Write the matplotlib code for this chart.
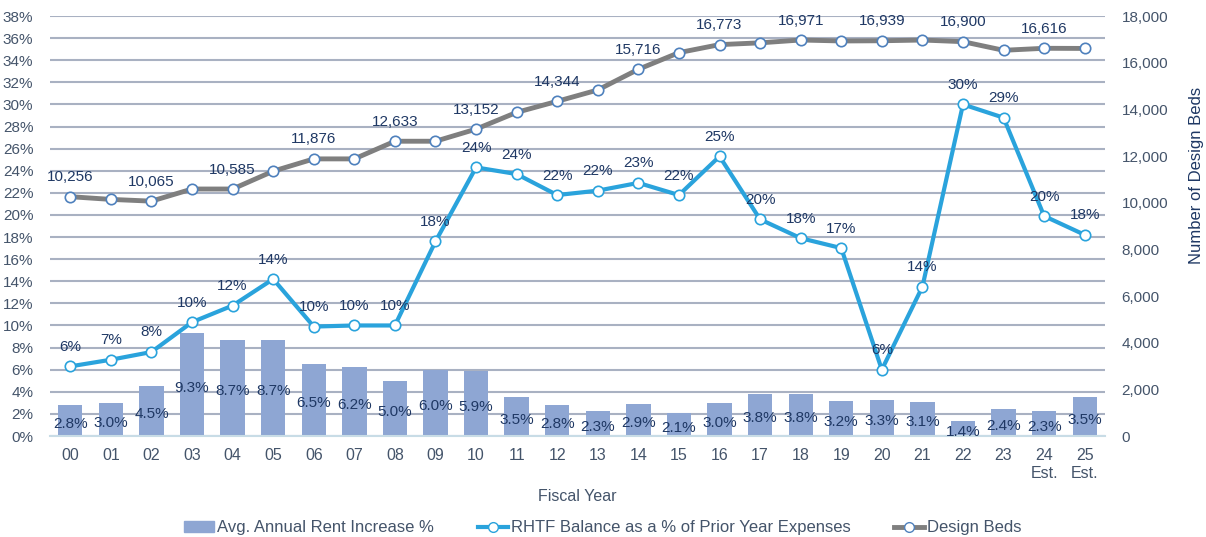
'''recreate the RHTF / design beds combo chart'''
import matplotlib
matplotlib.use('Agg')
import matplotlib.pyplot as plt
from matplotlib.lines import Line2D
from matplotlib.patches import Patch

# data
years = ['00', '01', '02', '03', '04', '05', '06', '07', '08', '09', '10', '11', '12',
         '13', '14', '15', '16', '17', '18', '19', '20', '21', '22', '23', '24\nEst.', '25\nEst.']
rent_increase = [2.8, 3.0, 4.5, 9.3, 8.7, 8.7, 6.5, 6.2, 5.0, 6.0, 5.9, 3.5, 2.8,
                 2.3, 2.9, 2.1, 3.0, 3.8, 3.8, 3.2, 3.3, 3.1, 1.4, 2.4, 2.3, 3.5]
rhtf_balance = [6.3, 6.9, 7.6, 10.3, 11.8, 14.2, 9.9, 10.0, 10.0, 17.6, 24.3, 23.7, 21.8,
                22.2, 22.9, 21.8, 25.3, 19.6, 17.9, 17.0, 6.0, 13.5, 30.0, 28.8, 19.9, 18.2]
design_beds = [10256, 10140, 10065, 10585, 10585, 11350, 11876, 11876, 12633, 12633, 13152, 13870, 14344,
               14830, 15716, 16430, 16773, 16850, 16971, 16930, 16939, 16970, 16900, 16530, 16616, 16610]

bar_color = '#8EA6D3'
blue = '#2AA3DC'
gray = '#7F7F7F'
text_color = '#1F3864'
tick_color = '#44546A'

plt.rcParams['font.family'] = ['Liberation Sans', 'DejaVu Sans']

fig = plt.figure(figsize=(12.06, 5.37), dpi=100)
ax = fig.add_axes([50 / 1206, 1 - 436 / 537, 1055 / 1206, 420 / 537])
ax2 = ax.twinx()

x = list(range(len(years)))

# bars
ax.bar(x, rent_increase, width=0.6, color=bar_color, zorder=2)
for xi, v in zip(x, rent_increase):
    ax.text(xi, v / 2 - 0.3, f'{v:.1f}%', ha='center', va='center',
            fontsize=11, color=text_color, zorder=5)

# RHTF line
ax.plot(x, rhtf_balance, color=blue, lw=3, marker='o', ms=7.5,
        mfc='white', mec=blue, mew=1.2, zorder=4)
for xi, v in zip(x, rhtf_balance):
    ax.annotate(f'{round(v):d}%', (xi, v), xytext=(0, 9), textcoords='offset points',
                ha='center', va='bottom', fontsize=11, color=text_color, zorder=5)

# design beds line on right axis
ax2.plot(x, design_beds, color=gray, lw=3.5, marker='o', ms=7.5,
         mfc='white', mec='#4F81BD', mew=1.2, zorder=4)
for xi, v in zip(x, design_beds):
    if xi % 2 == 0:
        ax2.annotate(f'{v:,}', (xi, v), xytext=(0, 9), textcoords='offset points',
                     ha='center', va='bottom', fontsize=11, color=text_color, zorder=5)

# axes setup
ax.set_xlim(-0.5, 25.5)
ax.set_ylim(0, 38)
ax.set_yticks(range(0, 39, 2))
ax.set_yticklabels([f'{t}%' for t in range(0, 39, 2)])
ax2.set_ylim(0, 18000)
ax2.set_yticks(range(0, 18001, 2000))
ax2.set_yticklabels([f'{t:,}' for t in range(0, 18001, 2000)])

ax.grid(axis='y', color='#A9B1C2', lw=1.5, zorder=0)
ax.set_axisbelow(True)
ax.set_xticks(x)
ax.set_xticklabels(years)

for a in (ax, ax2):
    for side in ('top', 'left', 'right', 'bottom'):
        a.spines[side].set_visible(False)
    a.tick_params(length=0, labelsize=11, colors=tick_color)
ax.spines['bottom'].set_visible(True)
ax.spines['bottom'].set_color('#C8DCE6')
ax.spines['bottom'].set_linewidth(1.5)
ax.tick_params(axis='x', labelsize=11.5, pad=9)
ax.tick_params(axis='y', pad=12)
ax2.tick_params(axis='y', pad=12)

ax.set_xlabel('Fiscal Year', fontsize=11.5, color=tick_color, labelpad=6)
ax2.set_ylabel('Number of Design Beds', fontsize=12, color=text_color)
ax2.yaxis.set_label_coords(1.08, 0.62)

handles = [
    Patch(color=bar_color),
    Line2D([], [], color=blue, lw=3, marker='o', ms=7, mfc='white', mec=blue),
    Line2D([], [], color=gray, lw=3.5, marker='o', ms=7, mfc='white', mec='#4F81BD'),
]
labels = ['Avg. Annual Rent Increase %', 'RHTF Balance as a % of Prior Year Expenses', 'Design Beds']
fig.legend(handles, labels, loc='lower center', ncol=3, frameon=False,
           bbox_to_anchor=(0.5, -0.025), handlelength=1.8, handletextpad=0.2, columnspacing=2.6,
           prop={'size': 12}, labelcolor=tick_color)

fig.savefig('out.png', dpi=100)
